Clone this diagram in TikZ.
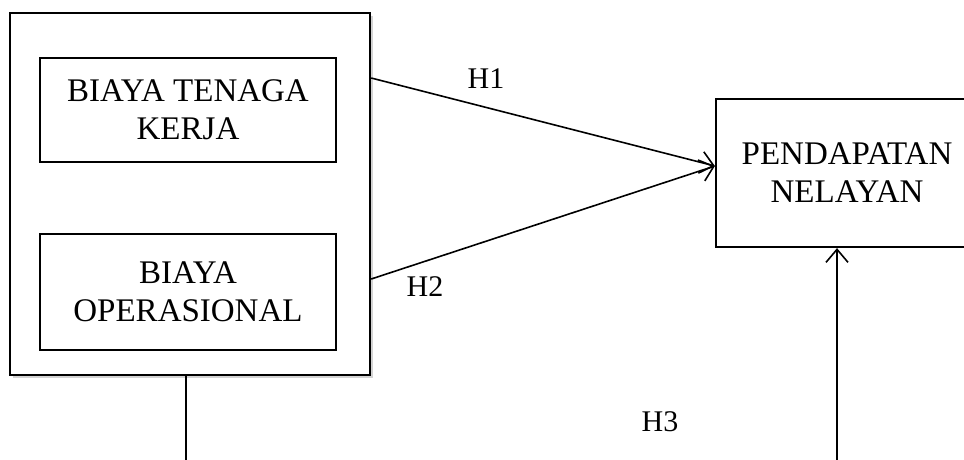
\documentclass[tikz,border=0pt]{standalone}
\usepackage{fontspec}
\setmainfont{Liberation Serif}
\usetikzlibrary{arrows.meta,shadows,calc}
\begin{document}
\begin{tikzpicture}[x=1pt,y=-1pt,
  txt/.style={font=\fontsize{33}{38}\selectfont},
  lbl/.style={font=\fontsize{30}{34}\selectfont},
  varbox/.style={draw,line width=1.6pt,align=center,inner sep=0pt,txt},
  conn/.style={line width=1.6pt,-{Straight Barb[length=13pt,width=22pt,line width=1.6pt]}}]
  \useasboundingbox (0,0) rectangle (964,459);
  % grouping frame with a soft shadow
  \node[draw,line width=2.4pt,fill=white,minimum width=360pt,minimum height=362pt,inner sep=0pt,
        drop shadow={shadow xshift=2.5pt,shadow yshift=-2.5pt,opacity=0.35}]
        (outer) at (190,194) {};
  \node[varbox,minimum width=296pt,minimum height=104pt] (bt) at (188,110) {BIAYA TENAGA\\KERJA};
  \node[varbox,minimum width=296pt,minimum height=116pt] (bo) at (188,292) {BIAYA\\OPERASIONAL};
  \node[varbox,line width=2.2pt,minimum width=262pt,minimum height=148pt] (pn) at (847,173) {PENDAPATAN\\NELAYAN};
  % connectors
  \coordinate (s1) at (outer.east |- 0,78);
  \coordinate (s2) at (outer.east |- 0,279);
  \coordinate (t1) at (pn.west |- 0,166);
  \coordinate (low1) at (186,462);
  \coordinate (low2) at (837,462);
  \draw[conn] (s1) -- (t1);
  \draw[conn] (s2) -- (t1);
  \draw[line width=1.6pt] ($(outer.south)+(-4,0)$) -- (low1);
  \draw[conn] (low2) -- (pn.south -| low2);
  % hypothesis labels
  \node[lbl] (h1) at (486,79) {H1};
  \node[lbl] (h2) at (425,287) {H2};
  \node[lbl] (h3) at (660,422) {H3};
\end{tikzpicture}
\end{document}
